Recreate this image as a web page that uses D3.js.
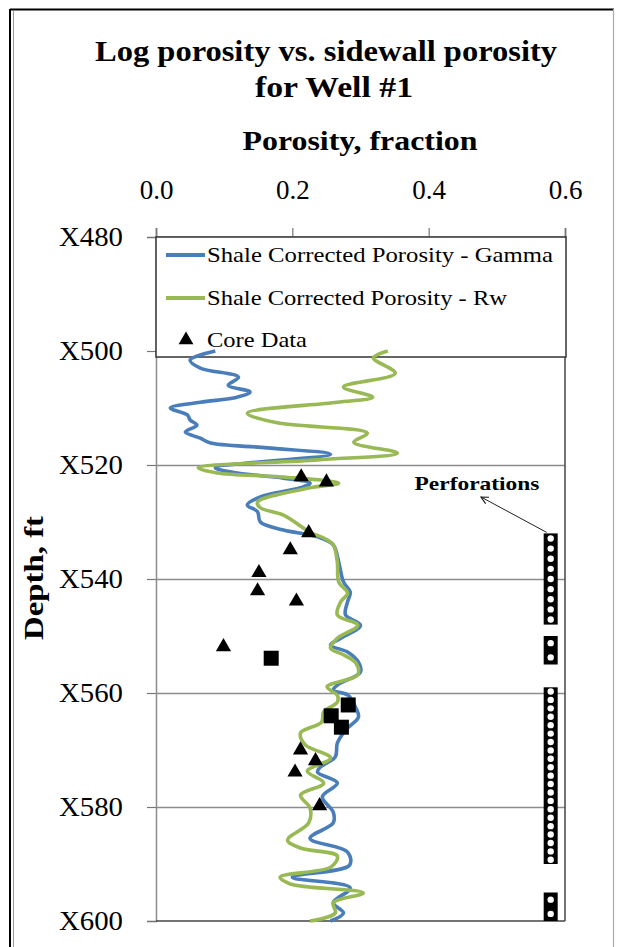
<!DOCTYPE html>
<html>
<head>
<meta charset="utf-8">
<script src="https://cdn.jsdelivr.net/npm/d3@7"></script>
<style>
  html, body { margin: 0; padding: 0; background: #fff; }
  svg { display: block; }
  text { font-family: "Liberation Serif", "Times New Roman", serif; fill: #000; }
</style>
</head>
<body>
<svg id="chart" width="631" height="947"></svg>
<script>
// Depth (ft below X000) and porosity readings
const gammaDepth = [500.0,501.6,503.0,504.6,506.0,507.2,508.1,509.0,510.0,511.2,512.1,513.0,514.2,515.3,516.1,517.0,518.1,520.5,521.4,522.3,523.2,524.0,525.6,527.0,528.2,530.0,531.4,532.6,534.0,537.0,540.5,542.3,544.0,546.3,548.1,550.4,551.6,552.8,554.6,556.3,558.6,559.5,560.4,562.6,564.2,566.5,568.8,571.2,573.0,573.9,575.8,578.2,580.9,582.8,585.5,587.9,590.2,592.3,594.2,596.8,598.6,600.0];
const gammaPorosity = [0.087,0.050,0.065,0.121,0.106,0.138,0.119,0.065,0.021,0.046,0.050,0.060,0.043,0.065,0.079,0.163,0.256,0.087,0.119,0.187,0.226,0.212,0.153,0.134,0.149,0.153,0.187,0.237,0.260,0.268,0.275,0.285,0.281,0.278,0.300,0.271,0.256,0.281,0.297,0.300,0.266,0.260,0.282,0.293,0.297,0.278,0.266,0.263,0.241,0.237,0.266,0.244,0.260,0.260,0.226,0.281,0.284,0.200,0.285,0.260,0.275,0.256];

const rwDepth = [500.0,501.2,503.9,506.3,508.1,509.0,510.9,512.6,514.4,516.0,517.9,519.1,520.5,521.4,522.1,523.2,524.0,526.5,527.5,528.8,531.8,532.8,534.0,537.0,540.5,542.5,544.0,546.3,548.1,550.4,552.1,553.3,554.7,556.8,558.9,560.4,561.6,563.3,565.1,567.0,569.1,571.4,573.7,575.8,577.9,580.2,582.8,585.8,587.2,588.6,590.5,592.3,593.5,595.1,596.8,598.6,600.0];
const rwPorosity = [0.340,0.319,0.351,0.275,0.318,0.266,0.134,0.178,0.310,0.290,0.354,0.237,0.062,0.090,0.187,0.268,0.226,0.149,0.153,0.187,0.226,0.246,0.260,0.266,0.268,0.281,0.271,0.266,0.296,0.266,0.256,0.275,0.293,0.296,0.251,0.266,0.266,0.246,0.243,0.212,0.219,0.256,0.222,0.246,0.212,0.226,0.224,0.193,0.212,0.266,0.257,0.182,0.197,0.304,0.260,0.263,0.226];

const coreDepth = [522.1,523.0,531.9,534.9,538.9,542.1,543.9,551.9,570.0,571.9,573.9,579.8];
const corePorosity = [0.213,0.250,0.224,0.197,0.151,0.149,0.206,0.099,0.212,0.234,0.204,0.240];

const plugDepth = [553.9,562.1,564.0,566.0];
const plugPorosity = [0.169,0.282,0.257,0.272];

const perfTop = [532, 550, 559, 595];
const perfBottom = [548, 555, 590, 600];
const perfShots = [9, 2, 21, 2];
const perfPorosity = 0.579;

const xTicks = [0.0, 0.2, 0.4, 0.6];
const xTickLabels = ["0.0", "0.2", "0.4", "0.6"];
const yTicks = [480, 500, 520, 540, 560, 580, 600];
const yTickLabels = ["X480", "X500", "X520", "X540", "X560", "X580", "X600"];

const seriesNames = ["Shale Corrected Porosity - Gamma", "Shale Corrected Porosity - Rw", "Core Data"];
const seriesColors = ["#4a7ebb", "#98b954", "#000"];

const svg = d3.select("#chart");
const plot = { left: 156, right: 565, top: 237, bottom: 921 };

const x = d3.scaleLinear().domain([0, 0.6]).range([plot.left, plot.right]);
const y = d3.scaleLinear().domain([480, 600]).range([plot.top, plot.bottom]);

// outer frame
svg.append("line").attr("x1", 10).attr("x2", 614).attr("y1", 9.5).attr("y2", 9.5)
  .attr("stroke", "#000").attr("stroke-width", 2);
svg.append("line").attr("x1", 10).attr("x2", 10).attr("y1", 9).attr("y2", 947)
  .attr("stroke", "#000").attr("stroke-width", 2);
svg.append("line").attr("x1", 13.5).attr("x2", 13.5).attr("y1", 11).attr("y2", 947)
  .attr("stroke", "#999").attr("stroke-width", 1);
svg.append("line").attr("x1", 613.5).attr("x2", 613.5).attr("y1", 9).attr("y2", 947)
  .attr("stroke", "#aaa").attr("stroke-width", 1.2);

// titles
svg.append("text").attr("x", 326).attr("y", 61).attr("text-anchor", "middle")
  .attr("font-size", 29).attr("font-weight", "bold")
  .attr("textLength", 462).attr("lengthAdjust", "spacingAndGlyphs")
  .text("Log porosity vs. sidewall porosity");
svg.append("text").attr("x", 334).attr("y", 97).attr("text-anchor", "middle")
  .attr("font-size", 29).attr("font-weight", "bold")
  .attr("textLength", 158).attr("lengthAdjust", "spacingAndGlyphs")
  .text("for Well #1");
svg.append("text").attr("x", 360).attr("y", 150).attr("text-anchor", "middle")
  .attr("font-size", 28).attr("font-weight", "bold")
  .attr("textLength", 235).attr("lengthAdjust", "spacingAndGlyphs")
  .text("Porosity, fraction");

// horizontal gridlines
svg.append("g").selectAll("line").data(yTicks.slice(1, -1)).join("line")
  .attr("x1", plot.left).attr("x2", plot.right)
  .attr("y1", d => y(d) + 0.5).attr("y2", d => y(d) + 0.5)
  .attr("stroke", "#8c8c8c").attr("stroke-width", 1.5);

// top axis
const xAxis = svg.append("g").attr("transform", `translate(0,${plot.top})`)
  .call(d3.axisTop(x).tickValues(xTicks).tickSize(9).tickFormat((d, i) => xTickLabels[i]));
xAxis.select(".domain").attr("stroke", "#333").attr("stroke-width", 1.5);
xAxis.selectAll(".tick line").attr("stroke", "#777").attr("stroke-width", 1.2);
xAxis.selectAll(".tick text").attr("font-family", "Liberation Serif, serif")
  .attr("font-size", 27).attr("fill", "#000").attr("y", -38).attr("dy", 0);

// left axis
const yAxis = svg.append("g").attr("transform", `translate(${plot.left},0)`)
  .call(d3.axisLeft(y).tickValues(yTicks).tickSize(9).tickFormat((d, i) => yTickLabels[i]));
yAxis.select(".domain").attr("stroke", "#8c8c8c").attr("stroke-width", 1.5);
yAxis.selectAll(".tick line").attr("stroke", "#777").attr("stroke-width", 1.2);
yAxis.selectAll(".tick text").attr("font-family", "Liberation Serif, serif")
  .attr("font-size", 27).attr("fill", "#000").attr("x", -33).attr("dy", "0.33em")
  .attr("textLength", 64).attr("lengthAdjust", "spacingAndGlyphs");

svg.append("text").attr("transform", `translate(43,578) rotate(-90)`)
  .attr("text-anchor", "middle").attr("font-size", 28).attr("font-weight", "bold")
  .attr("textLength", 124).attr("lengthAdjust", "spacingAndGlyphs")
  .text("Depth, ft");

// right and bottom frame
svg.append("line").attr("x1", plot.right).attr("x2", plot.right).attr("y1", plot.top).attr("y2", plot.bottom)
  .attr("stroke", "#444").attr("stroke-width", 1.5);
svg.append("line").attr("x1", plot.left).attr("x2", plot.right).attr("y1", plot.bottom).attr("y2", plot.bottom)
  .attr("stroke", "#444").attr("stroke-width", 1.5);

// legend box
const legend = svg.append("g");
legend.append("rect").attr("x", plot.left).attr("y", plot.top)
  .attr("width", plot.right - plot.left + 1).attr("height", 120)
  .attr("fill", "#fff").attr("stroke", "#333").attr("stroke-width", 1.5);
const legendY = [255, 298, 340];
[0, 1].forEach(i => {
  legend.append("line").attr("x1", 166).attr("x2", 205)
    .attr("y1", legendY[i]).attr("y2", legendY[i])
    .attr("stroke", seriesColors[i]).attr("stroke-width", 4);
});
legend.append("path").attr("d", d3.symbol(d3.symbolTriangle, 95)())
  .attr("transform", `translate(186,${legendY[2]})`).attr("fill", "#000");
seriesNames.forEach((n, i) => {
  legend.append("text").attr("x", 207).attr("y", legendY[i] + 7)
    .attr("font-size", 21)
    .attr("textLength", i === 0 ? 346 : (i === 1 ? 300 : 100))
    .attr("lengthAdjust", "spacingAndGlyphs")
    .text(n);
});

// porosity curves
const line = d3.line().curve(d3.curveCatmullRom.alpha(0.5))
  .x(d => x(d[1])).y(d => y(d[0]));
svg.append("path").datum(gammaDepth.map((d, i) => [d, gammaPorosity[i]]))
  .attr("d", line).attr("fill", "none").attr("stroke", seriesColors[0])
  .attr("stroke-width", 3.6).attr("stroke-linejoin", "round");
svg.append("path").datum(rwDepth.map((d, i) => [d, rwPorosity[i]]))
  .attr("d", line).attr("fill", "none").attr("stroke", seriesColors[1])
  .attr("stroke-width", 3.6).attr("stroke-linejoin", "round");

// core data
svg.append("g").selectAll("path").data(coreDepth).join("path")
  .attr("d", d3.symbol(d3.symbolTriangle, 100)())
  .attr("transform", (d, i) => `translate(${x(corePorosity[i])},${y(d)})`)
  .attr("fill", "#000");
svg.append("g").selectAll("rect").data(plugDepth).join("rect")
  .attr("x", (d, i) => x(plugPorosity[i]) - 7.5).attr("y", d => y(d) - 7.5)
  .attr("width", 15).attr("height", 15).attr("fill", "#000");

// perforated intervals
const perf = svg.append("g");
perfTop.forEach((t, i) => {
  const cx = x(perfPorosity);
  const y0 = y(t), y1 = y(perfBottom[i]);
  perf.append("rect").attr("x", cx - 7).attr("y", y0).attr("width", 14).attr("height", y1 - y0)
    .attr("fill", "#000");
  const n = perfShots[i];
  const step = (y1 - y0) / n;
  d3.range(n).forEach(k => {
    perf.append("circle").attr("cx", cx).attr("cy", y0 + step * (k + 0.5)).attr("r", 3.2)
      .attr("fill", "#fff");
  });
});

svg.append("text").attr("x", 477).attr("y", 490).attr("text-anchor", "middle")
  .attr("font-size", 19).attr("font-weight", "bold")
  .attr("textLength", 125).attr("lengthAdjust", "spacingAndGlyphs")
  .text("Perforations");
const defs = svg.append("defs");
defs.append("marker").attr("id", "arrowOpen").attr("viewBox", "0 0 10 10")
  .attr("refX", 9).attr("refY", 5).attr("markerWidth", 9).attr("markerHeight", 9)
  .attr("orient", "auto").attr("markerUnits", "userSpaceOnUse")
  .append("path").attr("d", "M1,1 L9,5 L1,9").attr("fill", "none")
  .attr("stroke", "#222").attr("stroke-width", 1.3);
svg.append("line").attr("x1", x(perfPorosity) - 4).attr("y1", y(perfTop[0]) - 1)
  .attr("x2", 481).attr("y2", 497)
  .attr("stroke", "#222").attr("stroke-width", 1)
  .attr("marker-end", "url(#arrowOpen)");
</script>
</body>
</html>
